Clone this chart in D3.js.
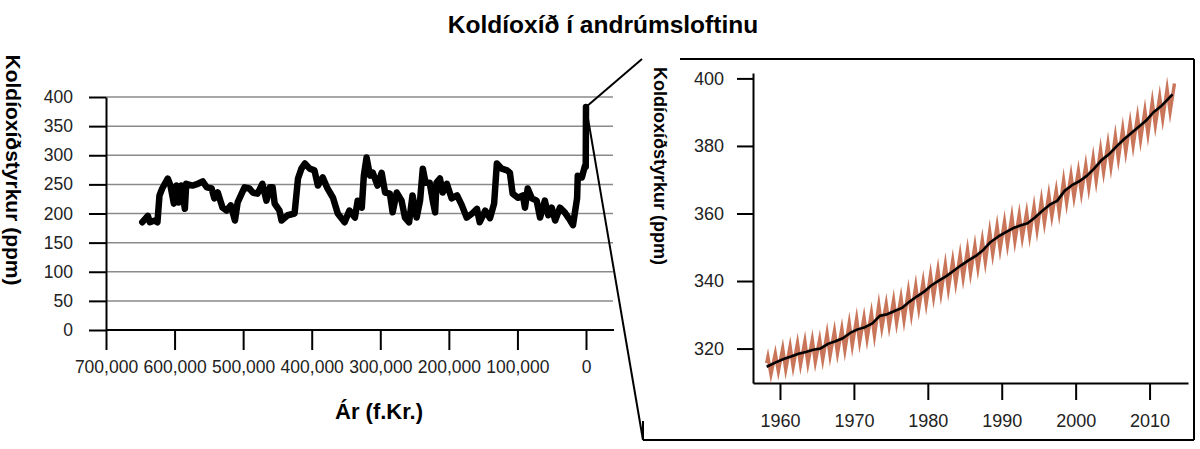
<!DOCTYPE html>
<html>
<head>
<meta charset="utf-8">
<script src="https://cdn.jsdelivr.net/npm/d3@7"></script>
<style>
    body { margin: 0; background: #fff; }
    svg { display: block; font-family: "Liberation Sans", Arial, sans-serif; }
</style>
</head>
<body>
<div id="chart"></div>
<script>
// ice core record, age in thousand years before present
var iceAgeKa = [647, 639, 636, 629, 625, 622, 618, 610, 606, 601, 597, 594, 590, 585, 583, 574, 566, 559, 553, 546,
    542, 537, 530, 524, 518, 512, 508, 498, 491, 486, 479, 472, 466, 461, 457, 454, 447, 444, 435, 425,
    420, 415, 410, 403, 396, 391, 384, 377, 369, 362, 352, 345, 337, 333, 327, 324, 320, 315, 311, 304,
    298, 293, 286, 282, 276, 269, 264, 258, 253, 247, 242, 238, 234, 228, 223, 220, 218, 213, 209, 203,
    196, 188, 181, 174, 166, 159, 155, 147, 140, 134, 130, 123, 115, 111, 107, 99, 92, 89, 85, 79,
    72, 67, 60, 55, 50, 45, 38, 31, 23, 19, 13, 12, 6, 1.5, 0.4, 0];
var iceCO2 = [185, 196, 185, 188, 185, 231, 243, 260, 248, 217, 248, 219, 248, 208, 251, 248, 251, 255, 245, 243,
    226, 236, 210, 205, 214, 188, 219, 245, 243, 236, 234, 251, 222, 245, 245, 217, 205, 188, 197, 200,
    260, 277, 286, 277, 274, 248, 262, 243, 227, 200, 185, 205, 193, 222, 210, 265, 296, 265, 270, 248,
    270, 236, 234, 202, 236, 222, 193, 185, 231, 193, 222, 277, 253, 253, 219, 202, 253, 260, 236, 251,
    226, 231, 214, 193, 200, 208, 185, 205, 192, 217, 286, 277, 274, 270, 234, 227, 231, 210, 243, 226,
    222, 193, 222, 197, 210, 188, 210, 202, 188, 180, 226, 265, 262, 282, 280, 383];

// Mauna Loa, trend line
var trendYears = [1958.2, 1959.5, 1960.5, 1961.5, 1962.5, 1963.5, 1964.5, 1965.5, 1966.5, 1967.5, 1968.5,
    1969.5, 1970.5, 1971.5, 1972.5, 1973.5, 1974.5, 1975.5, 1976.5, 1977.5, 1978.5, 1979.5, 1980.5,
    1981.5, 1982.5, 1983.5, 1984.5, 1985.5, 1986.5, 1987.5, 1988.5, 1989.5, 1990.5, 1991.5, 1992.5,
    1993.5, 1994.5, 1995.5, 1996.5, 1997.5, 1998.5, 1999.5, 2000.5, 2001.5, 2002.5, 2003.5, 2004.5,
    2005.5, 2006.5, 2007.5, 2008.5, 2009.5, 2010.5, 2011.5, 2012.5, 2013.1];
var trendCO2 = [314.6, 315.97, 316.91, 317.64, 318.45, 318.99, 319.62, 320.04, 321.38, 322.16, 323.04,
    324.62, 325.68, 326.32, 327.45, 329.68, 330.18, 331.11, 332.04, 333.83, 335.40, 336.84, 338.75,
    340.11, 341.45, 343.05, 344.65, 346.12, 347.42, 349.19, 351.57, 353.12, 354.39, 355.61, 356.45,
    357.10, 358.83, 360.82, 362.61, 363.73, 366.70, 368.38, 369.55, 371.14, 373.28, 375.80, 377.52,
    379.80, 381.90, 383.79, 385.60, 387.43, 389.90, 391.65, 393.85, 395.3];

// Mauna Loa, seasonal high (May) and low (autumn) per year
var seasonYears = d3.range(1958, 2014);
var seasonHigh = [317.5, 318.5, 320.0, 320.7, 321.6, 322.2, 322.6, 322.7, 324.5, 325.2, 325.9,
    327.6, 328.9, 329.3, 330.6, 332.9, 333.3, 334.3, 335.1, 337.1, 338.6, 339.9, 341.9,
    343.4, 344.9, 346.1, 347.8, 349.3, 350.5, 352.2, 354.7, 356.3, 357.6, 359.1, 359.7,
    360.3, 362.0, 364.0, 365.6, 366.9, 369.8, 371.4, 372.6, 374.3, 376.5, 378.9, 380.8,
    382.9, 385.1, 386.9, 388.7, 390.5, 393.1, 394.6, 396.9, 398.5];
var seasonLow = [312.4, 313.3, 313.8, 314.6, 315.2, 315.6, 316.0, 316.7, 317.9, 318.6, 319.5,
    320.9, 321.9, 322.8, 323.8, 326.1, 326.6, 327.5, 328.4, 330.1, 331.8, 333.3, 335.2,
    336.4, 337.6, 339.4, 340.9, 342.3, 343.8, 345.6, 347.9, 349.4, 350.7, 351.8, 352.8,
    353.4, 355.1, 357.2, 359.1, 360.2, 363.1, 364.8, 366.0, 367.5, 369.6, 372.2, 373.8,
    376.1, 378.2, 380.1, 381.8, 383.6, 386.1, 388.0, 390.1, null];
var seasonStart = [1958.2, 315.7];

var leftYTicks = [0, 50, 100, 150, 200, 250, 300, 350, 400];
var leftXTicks = [700, 600, 500, 400, 300, 200, 100, 0];
var rightYTicks = [320, 340, 360, 380, 400];
var rightXTicks = [1960, 1970, 1980, 1990, 2000, 2010];

var totalWidth = 1200,
    totalHeight = 449;

var svg = d3.select("#chart").append("svg")
    .attr("width", totalWidth)
    .attr("height", totalHeight);

// ---------- left chart ----------
var xLeft = d3.scaleLinear().domain([700, 0]).range([106, 586]),
    yLeft = d3.scaleLinear().domain([0, 400]).range([330, 97]);

svg.append("g").selectAll("line")
    .data(leftYTicks.filter(function(d) { return d > 0; }))
    .join("line")
    .attr("x1", 106).attr("x2", 613)
    .attr("y1", function(d) { return yLeft(d); })
    .attr("y2", function(d) { return yLeft(d); })
    .attr("stroke", "#8a8a8a")
    .attr("stroke-width", 1.5);

svg.append("line")
    .attr("x1", 106).attr("x2", 614)
    .attr("y1", yLeft(0)).attr("y2", yLeft(0))
    .attr("stroke", "#000").attr("stroke-width", 2);

var yAxisLeft = svg.append("g")
    .attr("transform", "translate(106,0)")
    .call(d3.axisLeft(yLeft).tickValues(leftYTicks).tickSize(17).tickPadding(16).tickSizeOuter(0));

var xAxisLeft = svg.append("g")
    .attr("transform", "translate(0," + yLeft(0) + ")")
    .call(d3.axisBottom(xLeft).tickValues(leftXTicks).tickSize(20).tickPadding(11)
        .tickFormat(function(d) { return d3.format(",")(d * 1000); }));
xAxisLeft.select(".domain").remove();

var iceLine = d3.line()
    .x(function(d) { return xLeft(d[0]); })
    .y(function(d) { return yLeft(d[1]); });

svg.append("path")
    .datum(d3.zip(iceAgeKa, iceCO2))
    .attr("d", iceLine)
    .attr("fill", "none")
    .attr("stroke", "#000")
    .attr("stroke-width", 6.5)
    .attr("stroke-linejoin", "round")
    .attr("stroke-linecap", "round");

// ---------- right chart ----------
var xRight = d3.scaleLinear().domain([1956.35, 2015.2]).range([753, 1188]),
    yRight = d3.scaleLinear().domain([309.8, 401.6]).range([383, 73]);

var yAxisRight = svg.append("g")
    .attr("transform", "translate(753,0)")
    .call(d3.axisLeft(yRight).tickValues(rightYTicks).tickSize(16).tickPadding(13).tickSizeOuter(0));

var xAxisRight = svg.append("g")
    .attr("transform", "translate(0,383)")
    .call(d3.axisBottom(xRight).tickValues(rightXTicks).tickSize(17).tickPadding(14).tickSizeOuter(0)
        .tickFormat(d3.format("d")));

[yAxisLeft, xAxisLeft, yAxisRight, xAxisRight].forEach(function(g) {
    g.selectAll("path, line").attr("stroke", "#000").attr("stroke-width", 2);
    g.selectAll("text").attr("fill", "#222").attr("font-size", g === yAxisRight || g === xAxisRight ? 18 : 17.5);
});

var seasonPts = [seasonStart];
seasonYears.forEach(function(yr, i) {
    seasonPts.push([yr + 0.37, seasonHigh[i]]);
    if (seasonLow[i] != null) seasonPts.push([yr + 0.78, seasonLow[i]]);
});

var mloLine = d3.line()
    .x(function(d) { return xRight(d[0]); })
    .y(function(d) { return yRight(d[1]); });

svg.append("path")
    .datum(seasonPts)
    .attr("d", mloLine)
    .attr("fill", "none")
    .attr("stroke", "#c4694b")
    .attr("stroke-width", 3.4)
    .attr("stroke-linejoin", "miter")
    .attr("stroke-miterlimit", 30)
    .attr("opacity", 0.92);

svg.append("path")
    .datum(d3.zip(trendYears, trendCO2))
    .attr("d", mloLine)
    .attr("fill", "none")
    .attr("stroke", "#000")
    .attr("stroke-width", 2.6)
    .attr("stroke-linejoin", "round");

// ---------- zoom box ----------
var spikeX = xLeft(0),
    spikeY = yLeft(383);
var boxLines = [
    [spikeX, spikeY, 642, 59],
    [spikeX, spikeY, 643, 440],
    [680, 59, 1194, 59],
    [1194, 59, 1194, 440],
    [643, 440, 1194, 440],
    [643, 421, 643, 440]
];
svg.append("g").selectAll("line")
    .data(boxLines)
    .join("line")
    .attr("x1", function(d) { return d[0]; })
    .attr("y1", function(d) { return d[1]; })
    .attr("x2", function(d) { return d[2]; })
    .attr("y2", function(d) { return d[3]; })
    .attr("stroke", "#000")
    .attr("stroke-width", 2);

// ---------- texts ----------
svg.append("text")
    .attr("x", 603).attr("y", 33)
    .attr("text-anchor", "middle")
    .attr("font-size", 24.5).attr("font-weight", "bold")
    .text("Koldíoxíð í andrúmsloftinu");

svg.append("text")
    .attr("transform", "translate(6,170) rotate(90)")
    .attr("text-anchor", "middle")
    .attr("font-size", 21).attr("font-weight", "bold")
    .text("Koldíoxíðstyrkur (ppm)");

svg.append("text")
    .attr("x", 379).attr("y", 419)
    .attr("text-anchor", "middle")
    .attr("font-size", 22).attr("font-weight", "bold")
    .text("Ár (f.Kr.)");

svg.append("text")
    .attr("transform", "translate(654,166) rotate(90)")
    .attr("text-anchor", "middle")
    .attr("font-size", 18).attr("font-weight", "bold")
    .text("Koldíoxíðstyrkur (ppm)");
</script>
</body>
</html>
